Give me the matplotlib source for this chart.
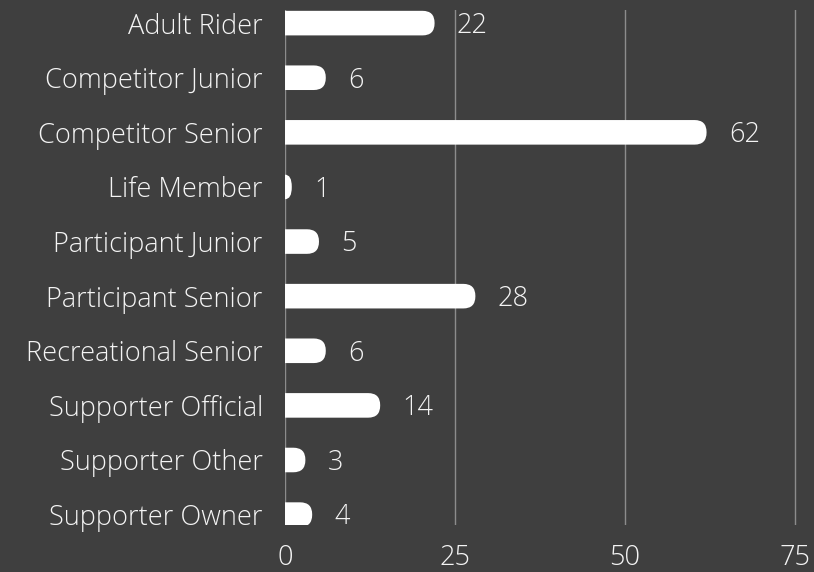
import matplotlib
matplotlib.use('Agg')
import matplotlib.pyplot as plt
from matplotlib.path import Path
from matplotlib.patches import PathPatch

categories = ['Adult Rider', 'Competitor Junior', 'Competitor Senior', 'Life Member',
              'Participant Junior', 'Participant Senior', 'Recreational Senior',
              'Supporter Official', 'Supporter Other', 'Supporter Owner']
counts = [22, 6, 62, 1, 5, 28, 6, 14, 3, 4]
xticks = [0, 25, 50, 75]

bg = '#3f3f3f'
txt = '#f4f4f4'
plt.rcParams['font.family'] = ['Open Sans', 'DejaVu Sans']
plt.rcParams['font.weight'] = 'light'

fig = plt.figure(figsize=(8.14, 5.72), dpi=100, facecolor=bg)
ax = fig.add_axes([0.3501, 0.0822, 0.6499, 0.9003], facecolor=bg)
ax.set_xlim(0, 77.8)
ax.set_ylim(9.19, -0.24)

# px -> data unit conversions for the rounded ends
px_x = 77.8 / 529
px_y = 9.43 / 515
h = 0.45
for i, v in enumerate(counts):
    rx = min(12 * px_x, v)
    ry = 12 * px_y
    y0, y1 = i - h / 2, i + h / 2
    verts = [(0, y0), (v - rx, y0), (v, y0), (v, y0 + ry), (v, y1 - ry),
             (v, y1), (v - rx, y1), (0, y1), (0, y0)]
    codes = [Path.MOVETO, Path.LINETO, Path.CURVE3, Path.CURVE3, Path.LINETO,
             Path.CURVE3, Path.CURVE3, Path.LINETO, Path.CLOSEPOLY]
    ax.add_patch(PathPatch(Path(verts, codes), facecolor='white', edgecolor='none', zorder=3))
    ax.annotate(str(v), (v, i), xytext=(16, -2), textcoords='offset points',
                ha='left', va='center', color=txt, fontsize=19.5, zorder=4)

ax.set_yticks(range(len(categories)))
ax.set_yticklabels(categories)
ax.set_xticks(xticks)
ax.tick_params(axis='both', length=0, colors=txt, labelsize=19.5)
ax.tick_params(axis='y', pad=16)
ax.tick_params(axis='x', pad=14)
ax.grid(axis='x', color='#8c8c8c', linewidth=1)
ax.set_axisbelow(True)
for s in ax.spines.values():
    s.set_visible(False)

fig.savefig('out.png', dpi=100, facecolor=bg)
